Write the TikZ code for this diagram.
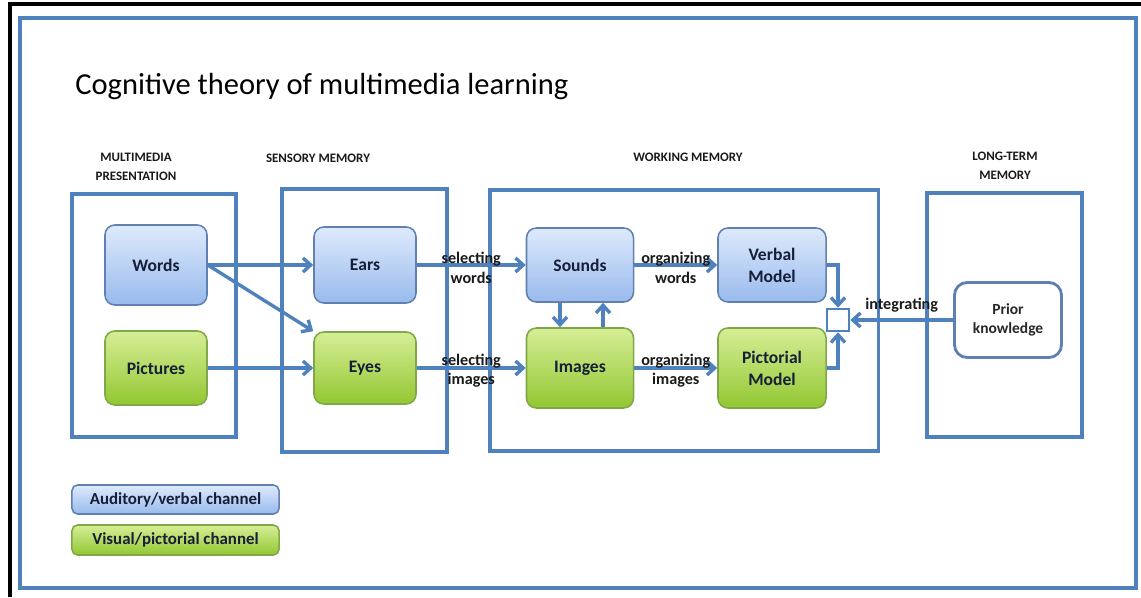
\documentclass[tikz,border=0pt]{standalone}
\usepackage{fontspec}
\setmainfont{Carlito}
\usetikzlibrary{arrows.meta,calc}
\definecolor{lineblue}{RGB}{79,129,189}
\definecolor{edgeblue}{RGB}{96,128,178}
\definecolor{edgegreen}{RGB}{128,168,72}
\definecolor{textnavy}{RGB}{22,30,56}
\tikzset{
  panel/.style = {draw=lineblue, line width=2.2pt},
  audbox/.style = {draw=edgeblue, line width=1.1pt, rounded corners=7pt,
                   top color={rgb,255:red,222;green,234;blue,252},
                   bottom color={rgb,255:red,152;green,186;blue,236},
                   font=\fontsize{12.5}{15.5}\selectfont\bfseries,
                   text=textnavy, align=center},
  visbox/.style = {draw=edgegreen, line width=1.1pt, rounded corners=7pt,
                   top color={rgb,255:red,214;green,238;blue,150},
                   bottom color={rgb,255:red,146;green,199;blue,50},
                   font=\fontsize{12.5}{15.5}\selectfont\bfseries,
                   text=textnavy, align=center},
  head/.style = {font=\fontsize{9.2}{13.5}\selectfont\bfseries, text=black!90,
                 align=center},
  lbl/.style = {font=\fontsize{11.5}{14}\selectfont\bfseries, text=black!90,
                align=center, inner sep=0pt},
  link/.style = {draw=lineblue, line width=2.4pt,
                 -{Straight Barb[length=5.5pt,width=10pt]}}
}

\begin{document}
\begin{tikzpicture}[x=0.025cm, y=-0.025cm]
  \useasboundingbox (0,0) rectangle (1141,597);
  % frame
  \draw[line width=3.2pt] (10,597) -- (10,4) -- (1141,4);
  \draw[lineblue, line width=2.4pt] (20,18) rectangle (1136,588);

  \node[anchor=west, inner sep=0pt, font=\fontsize{21.7}{26}\selectfont]
    (title) at (75,87) {Cognitive theory of multimedia learning};

  % column headings
  \node[head] (hpres) at (136,167) {MULTIMEDIA\\PRESENTATION};
  \node[head] (hsens) at (318,158) {SENSORY MEMORY};
  \node[head] (hwork) at (688,157) {WORKING MEMORY};
  \node[head] (hltm) at (1005,166) {LONG-TERM\\MEMORY};

  % stores
  \node[panel, minimum width=4.1cm, minimum height=6.075cm] (pres) at (154,315.5) {};
  \node[panel, minimum width=4.125cm, minimum height=6.575cm] (sens) at (364.5,320.5) {};
  \node[panel, minimum width=9.7cm, minimum height=6.525cm] (work) at (684,320.5) {};
  \node[panel, minimum width=3.875cm, minimum height=6.1cm] (ltm) at (1004.5,315) {};

  \node[audbox, minimum width=2.55cm, minimum height=2cm] (words) at (156,265) {Words};
  \node[visbox, minimum width=2.55cm, minimum height=1.85cm] (pictures) at (156,368) {Pictures};
  \node[audbox, minimum width=2.55cm, minimum height=1.9cm] (ears) at (365,265) {Ears};
  \node[visbox, minimum width=2.55cm, minimum height=1.8cm] (eyes) at (365,368) {Eyes};
  \node[audbox, minimum width=2.675cm, minimum height=1.85cm] (sounds) at (580,265) {Sounds};
  \node[visbox, minimum width=2.675cm, minimum height=2cm] (images) at (580,368) {Images};
  \node[audbox, minimum width=2.7cm, minimum height=1.85cm] (verbal) at (772,265) {Verbal\\Model};
  \node[visbox, minimum width=2.7cm, minimum height=2cm] (pictorial) at (772,368) {Pictorial\\Model};
  \node[draw=lineblue, line width=1.8pt, fill=white, minimum size=0.55cm, inner sep=0pt]
    (merge) at (838,320) {};
  \node[draw=edgeblue, line width=2pt, rounded corners=9pt, fill=white,
        minimum width=2.675cm, minimum height=1.875cm, align=center,
        font=\fontsize{11}{14}\selectfont\bfseries, text=black!85]
    (prior) at (1008,320) {Prior\\knowledge};

  % legend
  \node[audbox, rounded corners=4pt, minimum width=5.175cm, minimum height=0.725cm,
        font=\fontsize{12}{14}\selectfont\bfseries] (legaud) at (175.5,499.5) {Auditory/verbal channel};
  \node[visbox, rounded corners=4pt, minimum width=5.175cm, minimum height=0.75cm,
        font=\fontsize{12}{14}\selectfont\bfseries] (legvis) at (175.5,540) {Visual/pictorial channel};

  % connectors
  \draw[link] (words) -- (ears);
  \draw[link] (words.east) -- (eyes.north west);
  \draw[link] (pictures) -- (eyes);
  \draw[link] (ears) -- (sounds)
    node[lbl, midway, yshift=-2pt] {selecting\\words};
  \draw[link] (eyes) -- (images)
    node[lbl, midway, yshift=-2pt] {selecting\\images};
  \draw[link] ($(sounds.south)+(-20,0)$) -- ($(images.north)+(-20,0)$);
  \draw[link] ($(images.north)+(23,0)$) -- ($(sounds.south)+(23,0)$);
  \draw[link] (sounds) -- (verbal)
    node[lbl, midway, yshift=-2pt] {organizing\\words};
  \draw[link] (images) -- (pictorial)
    node[lbl, midway, yshift=-2pt] {organizing\\images};
  \draw[link] (verbal.east) -| (merge.north);
  \draw[link] (pictorial.east) -| (merge.south);
  \draw[link] (prior) -- (merge)
    node[lbl, midway, above=4pt] {integrating};
\end{tikzpicture}
\end{document}
